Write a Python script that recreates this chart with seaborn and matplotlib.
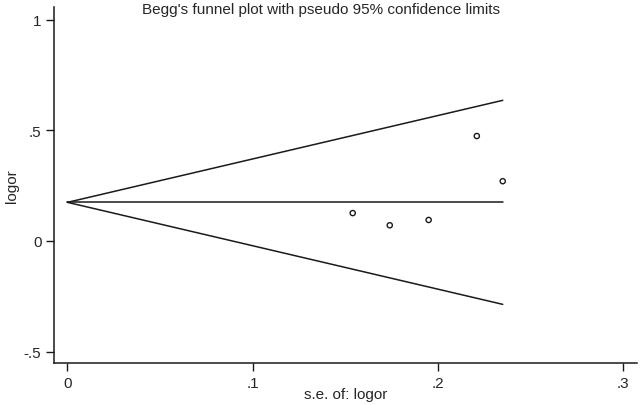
import numpy as np
import pandas as pd
import matplotlib
matplotlib.use("Agg")
import matplotlib.pyplot as plt
import seaborn as sns

# study data
se = [0.154, 0.174, 0.195, 0.221, 0.235]
logor = [0.126, 0.071, 0.095, 0.474, 0.270]
theta = 0.1745  # pooled estimate (centre line)

xticks = [0, 0.1, 0.2, 0.3]
xticklabels = ["0", ".1", ".2", ".3"]
yticks = [-0.5, 0, 0.5, 1]
yticklabels = ["-.5", "0", ".5", "1"]

sns.set_style("ticks")
plt.rcParams['font.family'] = ['Liberation Sans', 'DejaVu Sans']

df = pd.DataFrame({"se": se, "logor": logor})

# pseudo 95% limits
se_max = max(se)
funnel = pd.DataFrame({"se": [0, se_max, 0, se_max, 0, se_max],
                       "line": ["upper", "upper", "mid", "mid", "lower", "lower"]})
funnel["y"] = [theta, theta + 1.96 * se_max, theta, theta,
               theta, theta - 1.96 * se_max]

fig = plt.figure(figsize=(6.41, 4.06), dpi=100)
ax = fig.add_axes([0.0842, 0.1034, 0.9096, 0.8766])

for name, g in funnel.groupby("line"):
    sns.lineplot(data=g, x="se", y="y", ax=ax, color="#1a1a1a", lw=1.1,
                 estimator=None, sort=False)

sns.scatterplot(data=df, x="se", y="logor", ax=ax, marker="o", s=14,
                facecolor="none", edgecolor="#1a1a1a", linewidth=1.0)

ax.set_xlim(-0.0073, 0.3075)
ax.set_ylim(-0.551, 1.056)
ax.set_xticks(xticks)
ax.set_xticklabels(xticklabels)
ax.set_yticks(yticks)
ax.set_yticklabels(yticklabels)
ax.tick_params(length=6, width=1, color="#1a1a1a", labelsize=11, pad=3)
for s in ["top", "right"]:
    ax.spines[s].set_visible(False)
for s in ["left", "bottom"]:
    ax.spines[s].set_linewidth(1.1)
    ax.spines[s].set_color("#1a1a1a")

ax.set_xlabel("s.e. of: logor", fontsize=11)
ax.set_ylabel("logor", fontsize=11)
ax.xaxis.set_label_coords(0.5, -0.087)
ax.yaxis.set_label_coords(-0.072, 0.5)
ax.xaxis.label.set_va("center")
ax.yaxis.label.set_va("center")

fig.text(0.5, 0.975, "Begg's funnel plot with pseudo 95% confidence limits",
         ha="center", va="center", fontsize=11)

fig.savefig("out.png", dpi=100)
